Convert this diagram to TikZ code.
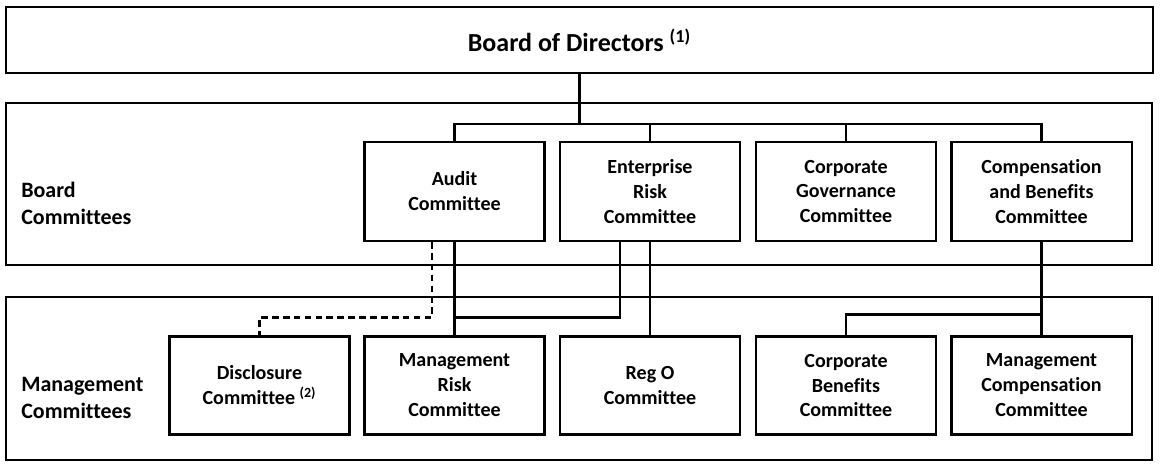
\documentclass[tikz,border=0pt]{standalone}
\usepackage{fontspec}
\setmainfont[Ligatures=NoCommon]{Carlito}
\usepackage{tikz}
\usetikzlibrary{positioning, calc}

\begin{document}
\begin{tikzpicture}[
    panel/.style={draw, line width=1.15pt, minimum width=22.92cm, inner sep=0pt},
    box/.style={draw, line width=1.15pt, minimum width=3.6cm, minimum height=1.96cm, align=center, inner sep=0pt, font=\fontsize{11.4}{14.2}\selectfont\bfseries},
    sidelabel/.style={anchor=west, align=left, inner sep=0pt, font=\fontsize{12.5}{15.4}\selectfont\bfseries},
    link/.style={line width=1.15pt},
    dlink/.style={line width=1.15pt, dash pattern=on 3.8pt off 2.4pt},
]
\useasboundingbox (0,0) rectangle (23.2,-9.44);

% Board of Directors
\node[panel, minimum width=22.94cm, minimum height=1.32cm, font=\fontsize{14.8}{18}\selectfont\bfseries] (bod) at (11.59, -0.80) {Board of Directors \textsuperscript{(1)}};

% Panels
\node[panel, minimum height=3.24cm] (bcpanel) at (11.58, -3.68) {};
\node[panel, minimum height=3.26cm] (mcpanel) at (11.58, -7.57) {};
\node[sidelabel] (bclabel) at (0.42, -4.06) {Board\\Committees};
\node[sidelabel] (mclabel) at (0.42, -7.96) {Management\\Committees};

% Board Committees
\node[box, minimum height=1.98cm] (audit) at (9.09, -3.83) {Audit\\Committee};
\node[box, minimum height=1.98cm] (erc) at (13.00, -3.83) {Enterprise\\Risk\\Committee};
\node[box, minimum height=1.98cm] (cgc) at (16.92, -3.83) {Corporate\\Governance\\Committee};
\node[box, minimum height=1.98cm] (comp) at (20.83, -3.83) {Compensation\\and Benefits\\Committee};

% Management Committees
\node[box] (disc) at (5.19, -7.71) {Disclosure\\Committee \textsuperscript{(2)}};
\node[box] (mrc) at (9.09, -7.71) {Management\\Risk\\Committee};
\node[box] (rego) at (13.00, -7.71) {Reg O\\Committee};
\node[box] (cbc) at (16.92, -7.71) {Corporate\\Benefits\\Committee};
\node[box] (mcc) at (20.83, -7.71) {Management\\Compensation\\Committee};

% Board to committees
\coordinate (bus) at ($(bod.south)+(0,-1.0)$);
\draw[link] (bod.south) -- (bus);
\draw[link] (audit.north) |- (bus -| comp.north) -- (comp.north);
\draw[link] (erc.north) -- (erc.north |- bus);
\draw[link] (cgc.north) -- (cgc.north |- bus);

% Board committees to management committees
\draw[link] (audit.south) -- (mrc.north);
\draw[dlink] ([xshift=-0.45cm]audit.south) |- ($(disc.north)+(0,0.36)$) -- (disc.north);
\draw[link] ([xshift=-0.6cm]erc.south) |- ($(mrc.north)+(0,0.36)$);
\draw[link] (erc.south) -- (rego.north);
\draw[link] (comp.south) -- (mcc.north);
\draw[link] ($(mcc.north)+(0,0.42)$) -| (cbc.north);

\end{tikzpicture}
\end{document}
